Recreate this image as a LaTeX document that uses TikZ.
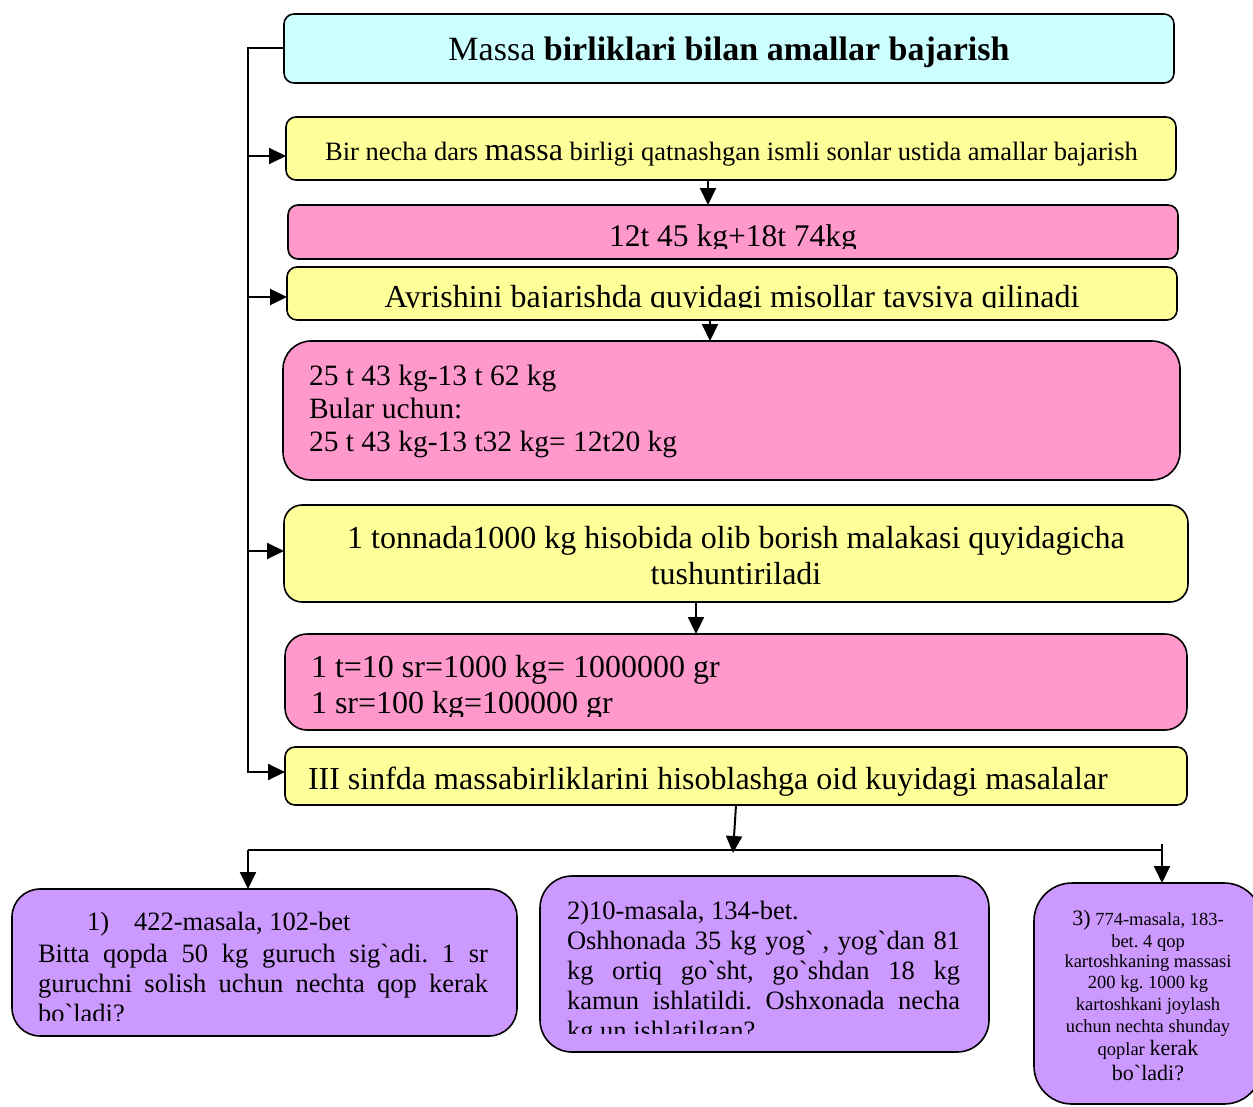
\documentclass[tikz,border=0pt]{standalone}
\usepackage{fontspec}
\setmainfont{Liberation Serif}
\usetikzlibrary{arrows.meta}
\definecolor{cyanbox}{HTML}{CCFFFF}
\definecolor{yellowbox}{HTML}{FFFF99}
\definecolor{pinkbox}{HTML}{FF99CC}
\definecolor{violetbox}{HTML}{CC99FF}
\newcommand{\fsz}[1]{\fontsize{#1}{#1}\selectfont}
\newcommand{\gravech}{\textasciigrave}
\frenchspacing
\begin{document}
\begin{tikzpicture}[x=1pt,y=-1pt,
  box/.style={draw=black, line width=1.6pt, inner sep=0pt, outer sep=0pt},
  arr/.style={line width=2pt, -{Triangle[length=17pt,width=16pt]}},
  conn/.style={line width=2pt},
  txt/.style={inner sep=0pt, outer sep=0pt, text=black}]
\useasboundingbox (0,0) rectangle (1253,1106);
\clip (0,0) rectangle (1253,1106);

% boxes
\node[box, fill=cyanbox, rounded corners=10pt, minimum width=890pt, minimum height=69pt] (title) at (729,48.5) {};
\node[box, fill=yellowbox, rounded corners=10pt, minimum width=890pt, minimum height=63pt] (y1) at (731,148.5) {};
\node[box, fill=pinkbox, rounded corners=10pt, minimum width=890pt, minimum height=54pt] (p1) at (733,232) {};
\node[box, fill=yellowbox, rounded corners=10pt, minimum width=890pt, minimum height=53pt] (y2) at (732,293.5) {};
\node[box, fill=pinkbox, rounded corners=28pt, minimum width=897pt, minimum height=139pt] (pbig) at (731.5,410.5) {};
\node[box, fill=yellowbox, rounded corners=18pt, minimum width=904pt, minimum height=97pt] (y3) at (736,553.5) {};
\node[box, fill=pinkbox, rounded corners=22pt, minimum width=902pt, minimum height=96pt] (p2) at (736,682) {};
\node[box, fill=yellowbox, rounded corners=10pt, minimum width=902pt, minimum height=58pt] (y4) at (736,776) {};
\node[box, fill=violetbox, rounded corners=28pt, minimum width=505pt, minimum height=147pt] (b1) at (264.5,962.5) {};
\node[box, fill=violetbox, rounded corners=32pt, minimum width=449pt, minimum height=176pt] (b2) at (764.5,964) {};
\node[box, fill=violetbox, rounded corners=38pt, minimum width=228pt, minimum height=221pt] (b3) at (1148,993.5) {};

% texts
\node[txt, anchor=base] (titleT) at (729,60) {\fsz{34}Massa \textbf{birliklari bilan amallar bajarish}};
\node[txt, anchor=base] (y1T) at (731.5,160) {\fsz{26.5}Bir necha dars {\fsz{32}massa} birligi qatnashgan ismli sonlar ustida amallar bajarish};
\begin{scope}
\clip (288,205) rectangle (1178,248.5);
\node[txt, anchor=base] (p1T) at (733,246) {\fsz{31.5}12t 45 kg+18t 74kg};
\end{scope}
\begin{scope}
\clip (287,267) rectangle (1177,307.5);
\node[txt, anchor=base] (y2T) at (732,307) {\fsz{32}Ayrishini bajarishda quyidagi misollar tavsiya qilinadi};
\end{scope}
\node[txt, anchor=base west] (pbT) at (309,385) {\parbox[t]{600pt}{\fontsize{29.5}{33}\selectfont 25 t 43 kg-13 t 62 kg\\Bular uchun:\\25 t 43 kg-13 t32 kg= 12t20 kg}};
\node[txt, anchor=base] (y3a) at (736,548) {\fsz{32}1 tonnada1000 kg hisobida olib borish malakasi quyidagicha};
\node[txt, anchor=base] (y3b) at (736,584) {\fsz{32}tushuntiriladi};
\begin{scope}
\clip (285,634) rectangle (1187,716);
\node[txt, anchor=base west] (p2T) at (311,677) {\parbox[t]{700pt}{\fontsize{32}{36}\selectfont 1 t=10 sr=1000 kg= 1000000 gr\\1 sr=100 kg=100000 gr}};
\end{scope}
\node[txt, anchor=base west] (y4T) at (308,789) {\fsz{32}III sinfda massabirliklarini hisoblashga oid kuyidagi masalalar};

% bottom box 1
\node[txt, anchor=base west] (b1h) at (87,930) {\fsz{26.5}1)\hspace{25pt}422-masala, 102-bet};
\begin{scope}
\clip (12,889) rectangle (517,1020);
\node[txt, anchor=base west] (b1T) at (38,962) {\parbox[t]{450pt}{\fontsize{26.5}{30}\selectfont
\makebox[450pt][s]{Bitta qopda 50 kg guruch sig\gravech adi. 1 sr}\\
\makebox[450pt][s]{guruchni solish uchun nechta qop kerak}\\
bo\gravech ladi?}};
\end{scope}

% bottom box 2
\node[txt, anchor=base west] (b2h) at (567,919) {\fsz{26.5}2)10-masala, 134-bet.};
\begin{scope}
\clip (540,876) rectangle (989,1033);
\node[txt, anchor=base west] (b2T) at (567,949) {\parbox[t]{393pt}{\fontsize{26.5}{30}\selectfont
\makebox[393pt][s]{Oshhonada 35 kg yog\gravech\ , yog\gravech dan 81}\\
\makebox[393pt][s]{kg ortiq go\gravech sht, go\gravech shdan 18 kg}\\
\makebox[393pt][s]{kamun ishlatildi. Oshxonada necha}\\
kg un ishlatilgan?}};
\end{scope}

% bottom box 3
\node[txt, anchor=base] (b3a) at (1148,925) {\fsz{18.5}{\fsz{22}3)} 774-masala, 183-};
\node[txt, anchor=base] (b3b) at (1148,947) {\fsz{18.5}bet. 4 qop};
\node[txt, anchor=base] (b3c) at (1148,967) {\fsz{18.5}kartoshkaning massasi};
\node[txt, anchor=base] (b3d) at (1148,988) {\fsz{18.5}200 kg. 1000 kg};
\node[txt, anchor=base] (b3e) at (1148,1010) {\fsz{18.5}kartoshkani joylash};
\node[txt, anchor=base] (b3f) at (1148,1032) {\fsz{18.5}uchun nechta shunday};
\node[txt, anchor=base] (b3g) at (1148,1055) {\fsz{18.5}qoplar {\fsz{22}kerak}};
\node[txt, anchor=base] (b3h) at (1148,1080) {\fsz{22}bo\gravech ladi?};

% connectors
\coordinate (trTop) at (248,48);
\coordinate (trBot) at (248,772);
\draw[conn] (title.west |- trTop) -- (trTop) -- (trBot);
\coordinate (a1) at (247,156);
\coordinate (a2) at (247,297);
\coordinate (a3) at (247,551);
\coordinate (a4) at (247,772);
\draw[arr] (a1) -- (a1 -| y1.west);
\draw[arr] (a2) -- (a2 -| y2.west);
\draw[arr] (a3) -- (a3 -| y3.west);
\draw[arr] (a4) -- (a4 -| y4.west);

\coordinate (v1) at (708,0);
\coordinate (v2) at (710,0);
\coordinate (v3) at (696,0);
\draw[arr] (y1.south -| v1) -- (p1.north -| v1);
\draw[arr] (y2.south -| v2) -- (pbig.north -| v2);
\draw[arr] (y3.south -| v3) -- (p2.north -| v3);

\coordinate (s4) at (736,0);
\coordinate (m4) at (733,853);
\draw[arr] (y4.south -| s4) -- (m4);

\coordinate (bL) at (248,850);
\coordinate (bR) at (1162,850);
\coordinate (bRtop) at (1162,844);
\draw[conn] (bL) -- (bR);
\draw[arr] (bL) -- (b1.north -| bL);
\draw[arr] (bRtop) -- (b3.north -| bRtop);
\end{tikzpicture}
\end{document}
